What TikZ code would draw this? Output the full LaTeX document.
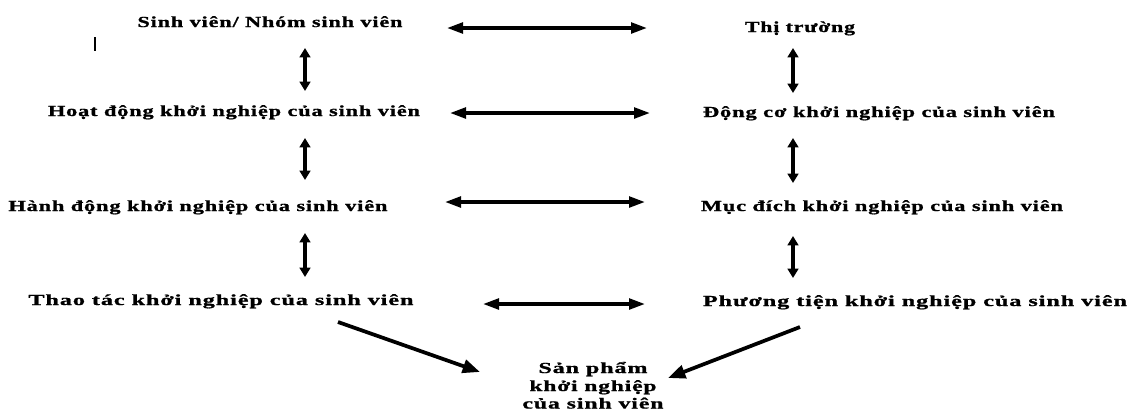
\documentclass[tikz,border=0pt]{standalone}
\usepackage{fontspec}
\newfontfamily\lblfont[LetterSpace=4,FakeBold=1]{Liberation Serif Bold}
\usetikzlibrary{arrows.meta}
\newlength\pxu
\setlength\pxu{0.75pt}
\newcommand{\wtxt}[2]{\resizebox{#1\pxu}{\height}{#2}}
\begin{document}
\begin{tikzpicture}[x=0.75pt,y=-0.75pt,
  lbl/.style={anchor=base,inner sep=0pt,font=\fontsize{11.5pt}{13pt}\lblfont},
  vconn/.style={line width=2.5pt,{Triangle[length=7pt,width=8pt]}-{Triangle[length=7pt,width=8pt]}},
  hconn/.style={line width=2.5pt,{Triangle[length=12pt,width=8pt]}-{Triangle[length=12pt,width=8pt]}},
  dconn/.style={line width=2.8pt,-{Triangle[length=13pt,width=10pt]}}]
\useasboundingbox (0,0) rectangle (1138,412);
% text nodes
\node[lbl] (sv) at (270,27) {\wtxt{265}{Sinh viên/ Nhóm sinh viên}};
\node[lbl] (tt) at (800,32) {\wtxt{110}{Thị trường}};
\node[lbl] (hd) at (234,116) {\wtxt{372}{Hoạt động khởi nghiệp của sinh viên}};
\node[lbl] (dc) at (879,117) {\wtxt{352}{Động cơ khởi nghiệp của sinh viên}};
\node[lbl] (ha) at (198,211) {\wtxt{379}{Hành động khởi nghiệp của sinh viên}};
\node[lbl] (md) at (882,211) {\wtxt{362}{Mục đích khởi nghiệp của sinh viên}};
\node[lbl] (tc) at (221,305) {\wtxt{385}{Thao tác khởi nghiệp của sinh viên}};
\node[lbl] (pt) at (915,306) {\wtxt{424}{Phương tiện khởi nghiệp của sinh viên}};
\node[lbl] (sp) at (593,373) {\wtxt{109}{Sản phẩm}};
\node[lbl] (sp2) at (593,391) {\wtxt{127}{khởi nghiệp}};
\node[lbl] (sp3) at (593,408.5) {\wtxt{141}{của sinh viên}};
% connector end points
\coordinate (h1a) at (447,28); \coordinate (h1b) at (647,28);
\coordinate (h2a) at (450,113); \coordinate (h2b) at (650,113);
\coordinate (h3a) at (445,202); \coordinate (h3b) at (645,202);
\coordinate (h4a) at (483,304); \coordinate (h4b) at (645,304);
\coordinate (l1a) at (305,48); \coordinate (l1b) at (305,91);
\coordinate (l2a) at (305,138); \coordinate (l2b) at (305,180);
\coordinate (l3a) at (305,233); \coordinate (l3b) at (305,277);
\coordinate (r1a) at (793,48); \coordinate (r1b) at (793,93);
\coordinate (r2a) at (793,138); \coordinate (r2b) at (793,183);
\coordinate (r3a) at (793,236); \coordinate (r3b) at (793,278);
\coordinate (dla) at (338,322); \coordinate (dlb) at (480,372);
\coordinate (dra) at (800,327); \coordinate (drb) at (668,378);
\coordinate (cura) at (95,37); \coordinate (curb) at (95,51);
% connectors
\draw[hconn] (h1a) -- (h1b);
\draw[hconn] (h2a) -- (h2b);
\draw[hconn] (h3a) -- (h3b);
\draw[hconn] (h4a) -- (h4b);
\draw[vconn] (l1a) -- (l1b);
\draw[vconn] (l2a) -- (l2b);
\draw[vconn] (l3a) -- (l3b);
\draw[vconn] (r1a) -- (r1b);
\draw[vconn] (r2a) -- (r2b);
\draw[vconn] (r3a) -- (r3b);
\draw[dconn] (dla) -- (dlb);
\draw[dconn] (dra) -- (drb);
\draw[line width=1.5pt] (cura) -- (curb);
\end{tikzpicture}
\end{document}
